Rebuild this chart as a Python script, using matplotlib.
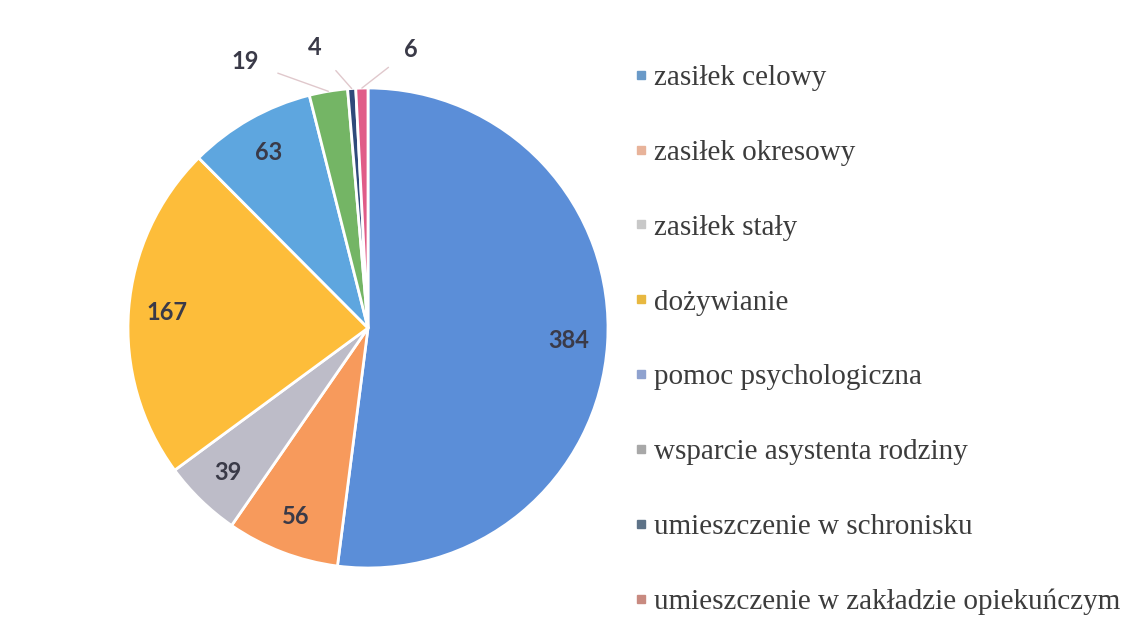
import numpy as np
from matplotlib import pyplot as plt
from matplotlib.lines import Line2D

categories = ['zasiłek celowy', 'zasiłek okresowy', 'zasiłek stały', 'dożywianie',
              'pomoc psychologiczna', 'wsparcie asystenta rodziny',
              'umieszczenie w schronisku', 'umieszczenie w zakładzie opiekuńczym']
values = [384, 56, 39, 167, 63, 19, 4, 6]
wedge_colors = ['#5b8ed8', '#f79a5c', '#bdbcc8', '#fdbd3a', '#5ea6df', '#74b565', '#2f4a7a', '#e05c88']
legend_colors = ['#6a9ac8', '#e8b39a', '#c8c8c8', '#e8b840', '#8fa2cf', '#a8a8a8', '#5e7388', '#c88a80']


def make_chart():
    fig = plt.figure(figsize=(11.33, 6.33), dpi=100)
    ax = fig.add_axes([(368 - 240) / 1133, (633 - 328 - 240) / 633, 480 / 1133, 480 / 633])
    wedges, _ = ax.pie(values, colors=wedge_colors, startangle=90, counterclock=False,
                       wedgeprops=dict(edgecolor='white', linewidth=2), radius=1.0)
    ax.set_xlim(-1, 1)
    ax.set_ylim(-1, 1)

    lab = dict(fontfamily='Lato', fontweight='bold', fontsize=17, color='#3a3a48',
               ha='center', va='center')
    # outside labels for the small slices
    outside = {5: (-0.51, 1.11), 6: (-0.22, 1.17), 7: (0.18, 1.16)}
    for i, w in enumerate(wedges):
        mid = np.deg2rad((w.theta1 + w.theta2) / 2)
        if i in outside:
            tx, ty = outside[i]
            ax.annotate(str(values[i]), xy=(np.cos(mid), np.sin(mid)), xytext=(tx, ty),
                        arrowprops=dict(arrowstyle='-', color='#e0c8cc', lw=1.0,
                                        shrinkA=12, shrinkB=0),
                        annotation_clip=False, **lab)
        else:
            r = 0.84
            ax.text(r * np.cos(mid), r * np.sin(mid), str(values[i]), **lab)

    handles = [Line2D([], [], marker='s', linestyle='none', markersize=6,
                      markerfacecolor=c, markeredgecolor=c) for c in legend_colors]
    fig.legend(handles, categories, loc='upper left', bbox_to_anchor=(618 / 1133, 1 - 50 / 633),
               frameon=False, prop=dict(family='Liberation Serif', size=21),
               labelcolor='#3c3c3c', handlelength=0.6, handletextpad=0.12,
               labelspacing=1.66, borderpad=0)
    fig.savefig('out.png', dpi=100, facecolor='white')


if __name__ == '__main__':
    make_chart()
